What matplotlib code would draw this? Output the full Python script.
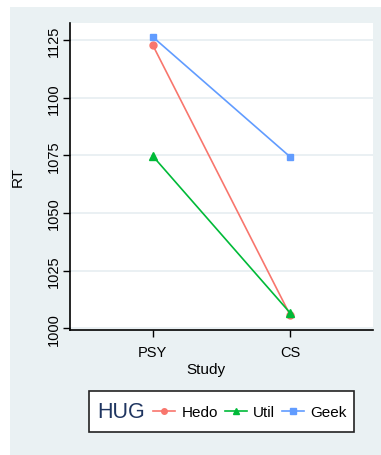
import matplotlib
matplotlib.use('Agg')
import matplotlib.pyplot as plt
from matplotlib.patches import Rectangle

## data
studies = ['PSY', 'CS']
hedo = [1123.0, 1005.5]
util = [1074.8, 1006.5]
geek = [1126.5, 1074.3]
y_ticks = [1000, 1025, 1050, 1075, 1100, 1125]

plt.rcParams['font.family'] = ['Liberation Sans', 'DejaVu Sans']

bg = '#EAF1F3'
fig = plt.figure(figsize=(3.81, 4.56), dpi=100)
fig.patch.set_facecolor('white')
# grey panel (white margin left and top only)
fig.patches.append(Rectangle((10 / 381, 0), 1, 1 - 8 / 456, transform=fig.transFigure,
                             facecolor=bg, edgecolor='none', zorder=-10))

ax = fig.add_axes([70 / 381, 1 - 331 / 456, 303 / 381, 307 / 456])
ax.set_facecolor('white')

x = [1, 2]
ax.plot(x, hedo, color='#F8766D', marker='o', markersize=5, lw=1.2, label='Hedo')
ax.plot(x, util, color='#00BA38', marker='^', markersize=6, lw=1.2, label='Util')
ax.plot(x, geek, color='#619CFF', marker='s', markersize=5, lw=1.2, label='Geek')

ax.set_xlim(0.4, 2.6)
ax.set_ylim(999.2, 1132.5)
ax.set_xticks(x)
ax.set_xticklabels(studies, fontsize=10.5)
ax.set_yticks(y_ticks)
ax.set_yticklabels([str(v) for v in y_ticks], rotation=90, va='center', fontsize=10.5)
ax.tick_params(axis='x', length=5, width=1, pad=6)
ax.tick_params(axis='y', length=5, width=1, pad=1.5)
ax.yaxis.grid(True, color='#E6EEF1', lw=1.2)
ax.set_axisbelow(True)
for s in ['top', 'right']:
    ax.spines[s].set_visible(False)
for s in ['left', 'bottom']:
    ax.spines[s].set_linewidth(1.2)

fig.text(206 / 381, 1 - 370 / 456, 'Study', ha='center', va='center', fontsize=11)
fig.text(18 / 381, 1 - 177 / 456, 'RT', ha='center', va='center', rotation=90, fontsize=11)

# legend box with title on the left
fig.patches.append(Rectangle((89 / 381, 1 - 433 / 456), 265 / 381, 41 / 456,
                             transform=fig.transFigure, facecolor='white',
                             edgecolor='#222222', lw=1.2, zorder=1))
fig.text(97 / 381, 1 - 413 / 456, 'HUG', ha='left', va='center', fontsize=15.5,
         color='#1F3560', zorder=2)
leg = fig.legend(loc='center left', bbox_to_anchor=(153 / 381, 1 - 413 / 456), ncol=3,
                 frameon=False, fontsize=11, handlelength=1.45, handletextpad=0.4,
                 columnspacing=0.45, borderpad=0, borderaxespad=0, markerscale=0.8)
leg.set_zorder(3)

fig.savefig('out.png', dpi=100)
